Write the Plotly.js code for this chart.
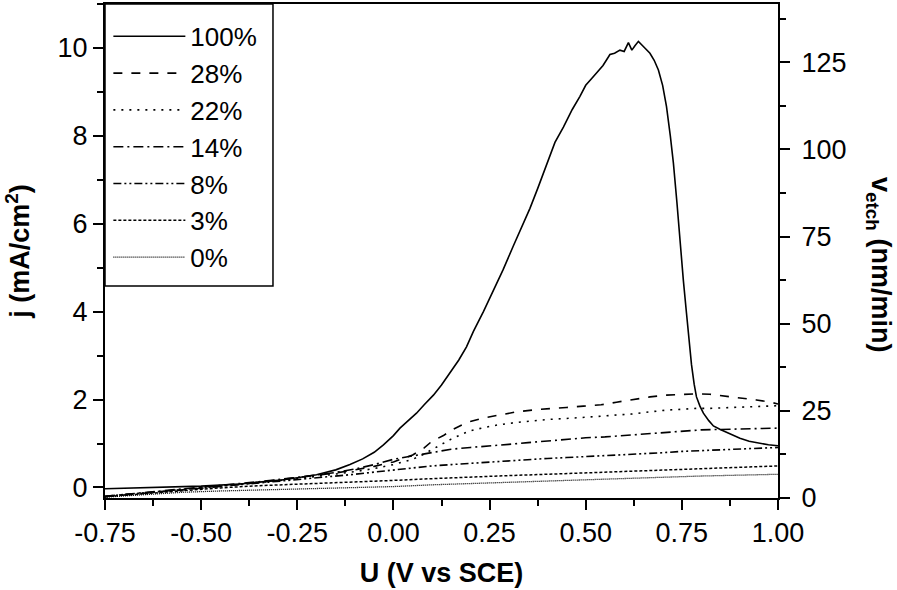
<!DOCTYPE html>
<html><head><meta charset="utf-8">
<script src="https://cdn.plot.ly/plotly-3.0.1.min.js"></script>
<style>html,body{margin:0;padding:0;background:#fff}#chart{width:897px;height:590px}</style>
</head><body><div id="chart"></div>
<script>
// Potential U (V vs SCE) and current density j (mA/cm2) per series
const u100 = [-0.75,-0.6,-0.5,-0.4,-0.3,-0.25,-0.2,-0.15,-0.113,-0.08,-0.05,-0.026,0.0,0.017,0.04,0.06,0.08,0.104,0.125,0.147,0.17,0.19,0.208,0.234,0.26,0.285,0.312,0.335,0.355,0.375,0.399,0.42,0.442,0.465,0.485,0.5,0.515,0.529,0.545,0.563,0.575,0.589,0.6,0.611,0.62,0.628,0.637,0.648,0.658,0.667,0.678,0.689,0.70,0.71,0.72,0.728,0.737,0.745,0.754,0.762,0.769,0.775,0.782,0.788,0.797,0.806,0.82,0.832,0.85,0.866,0.885,0.901,0.925,0.953,0.975,1.0];
const j100 = [-0.03,0.0,0.03,0.08,0.16,0.22,0.29,0.40,0.52,0.65,0.80,0.97,1.18,1.35,1.53,1.69,1.88,2.10,2.33,2.60,2.90,3.20,3.55,4.00,4.49,4.95,5.50,5.95,6.35,6.80,7.35,7.85,8.20,8.60,8.90,9.15,9.30,9.45,9.60,9.85,9.88,9.95,9.92,10.12,9.95,10.05,10.15,10.05,9.95,9.88,9.72,9.50,9.15,8.67,8.00,7.38,6.50,5.56,4.70,3.97,3.30,2.80,2.35,2.06,1.85,1.69,1.52,1.40,1.32,1.26,1.18,1.12,1.05,1.00,0.97,0.95];

const u28 = [-0.75,-0.65,-0.55,-0.45,-0.35,-0.25,-0.15,-0.1,-0.05,0.0,0.05,0.08,0.1,0.13,0.15,0.18,0.2,0.234,0.27,0.32,0.37,0.407,0.45,0.494,0.54,0.58,0.62,0.667,0.71,0.754,0.79,0.823,0.855,0.884,0.915,0.944,0.975,1.0];
const j28 = [-0.21,-0.13,-0.06,0.02,0.12,0.22,0.33,0.40,0.48,0.58,0.74,0.90,1.05,1.18,1.30,1.43,1.50,1.58,1.64,1.72,1.77,1.80,1.82,1.85,1.88,1.94,2.00,2.06,2.10,2.12,2.13,2.12,2.09,2.06,2.03,1.99,1.95,1.90];

const u22 = [-0.75,-0.65,-0.55,-0.45,-0.35,-0.25,-0.15,-0.1,-0.05,0.0,0.05,0.08,0.1,0.13,0.15,0.18,0.2,0.234,0.27,0.32,0.37,0.407,0.45,0.494,0.54,0.58,0.62,0.667,0.71,0.754,0.79,0.823,0.855,0.884,0.915,0.944,0.975,1.0];
const j22 = [-0.21,-0.13,-0.06,0.02,0.11,0.20,0.30,0.36,0.43,0.52,0.64,0.76,0.86,1.00,1.10,1.22,1.29,1.36,1.42,1.48,1.53,1.55,1.57,1.59,1.62,1.65,1.67,1.72,1.76,1.78,1.80,1.80,1.81,1.82,1.83,1.84,1.85,1.86];

const u14 = [-0.75,-0.65,-0.55,-0.45,-0.35,-0.25,-0.15,-0.1,-0.05,0.0,0.05,0.1,0.15,0.2,0.25,0.3,0.35,0.4,0.45,0.5,0.55,0.6,0.65,0.7,0.75,0.8,0.85,0.9,0.95,1.0];
const j14 = [-0.20,-0.12,-0.04,0.04,0.13,0.23,0.34,0.42,0.52,0.64,0.72,0.80,0.87,0.91,0.94,0.98,1.02,1.06,1.09,1.13,1.15,1.18,1.21,1.25,1.28,1.31,1.32,1.33,1.34,1.35];

const u8 = [-0.75,-0.65,-0.55,-0.45,-0.35,-0.25,-0.15,-0.1,-0.05,0.0,0.05,0.1,0.15,0.2,0.25,0.3,0.35,0.4,0.45,0.5,0.55,0.6,0.65,0.7,0.75,0.8,0.85,0.9,0.95,1.0];
const j8 = [-0.20,-0.12,-0.05,0.03,0.10,0.18,0.25,0.30,0.35,0.40,0.45,0.49,0.52,0.55,0.58,0.60,0.63,0.66,0.68,0.70,0.72,0.74,0.76,0.79,0.82,0.84,0.86,0.88,0.90,0.91];

const u3 = [-0.75,-0.65,-0.55,-0.45,-0.35,-0.25,-0.15,-0.1,0.0,0.1,0.2,0.3,0.4,0.5,0.6,0.7,0.8,0.9,1.0];
const j3 = [-0.21,-0.14,-0.07,-0.01,0.04,0.07,0.10,0.12,0.16,0.20,0.24,0.27,0.30,0.33,0.36,0.40,0.43,0.46,0.49];

const u0 = [-0.75,-0.65,-0.55,-0.45,-0.35,-0.25,-0.15,0.0,0.1,0.2,0.3,0.4,0.5,0.6,0.7,0.8,0.9,1.0];
const j0 = [-0.22,-0.16,-0.11,-0.08,-0.06,-0.03,-0.01,0.02,0.06,0.09,0.12,0.14,0.17,0.20,0.23,0.26,0.28,0.30];

const seriesNames = ["100%","28%","22%","14%","8%","3%","0%"];
const xTickVals = [-0.75,-0.50,-0.25,0.00,0.25,0.50,0.75,1.00];
const xTickText = ["-0.75","-0.50","-0.25","0.00","0.25","0.50","0.75","1.00"];

const FONT = "Liberation Sans, Arial, sans-serif";
const xs = [u100,u28,u22,u14,u8,u3,u0];
const ys = [j100,j28,j22,j14,j8,j3,j0];
const dashes = ["solid","dash","2px,6px","10px,4px,2px,4px","8px,3px,2px,3px,2px,3px","3px,2px","1px,1px"];
const widths = [1.6,1.6,1.6,1.6,1.6,1.5,1.3];

const traces = seriesNames.map((n,i)=>({
  x: xs[i], y: ys[i], name: n, type: "scatter", mode: "lines",
  line: {color: "#000", width: widths[i], dash: dashes[i]}
}));
// invisible trace to activate the right axis
traces.push({x:[-0.75], y:[0], yaxis:"y2", mode:"markers", marker:{opacity:0}, showlegend:false, hoverinfo:"skip"});

const axisCommon = {
  showgrid:false, zeroline:false, showline:true, linecolor:"#000", linewidth:2,
  ticks:"outside", ticklen:10, tickwidth:2, tickcolor:"#000",
  tickfont:{family:FONT, size:27, color:"#000"}
};

const layout = {
  width:897, height:590,
  margin:{l:105, r:119, t:4, b:92},
  paper_bgcolor:"#fff", plot_bgcolor:"#fff",
  showlegend:true,
  legend:{x:0.005, y:0.982, xanchor:"left", yanchor:"top", bgcolor:"rgba(255,255,255,0)",
    borderwidth:0, font:{family:FONT, size:26, color:"#000"},
    itemwidth:72, tracegroupgap:0},
  shapes:[{type:"rect", xref:"paper", yref:"paper", x0:0, x1:0.2496, y0:0.429, y1:1,
    line:{color:"#000", width:1.5}, fillcolor:"rgba(0,0,0,0)", layer:"above"}],
  xaxis: Object.assign({}, axisCommon, {
    range:[-0.75,1.0], tickvals:xTickVals, ticktext:xTickText, mirror:true,
    minor:{dtick:0.125, ticks:"outside", ticklen:6, tickwidth:2, tickcolor:"#000"},
    title:{text:"<b>U (V vs SCE)</b>", font:{family:FONT, size:27, color:"#000"}, standoff:16}
  }),
  yaxis: Object.assign({}, axisCommon, {
    range:[-0.24,11.0], dtick:2, tick0:0,
    minor:{dtick:1, ticks:"outside", ticklen:6, tickwidth:2, tickcolor:"#000"},
    title:{text:"<b>j (mA/cm<sup>2</sup>)</b>", font:{family:FONT, size:27, color:"#000"}, standoff:20}
  }),
  yaxis2: Object.assign({}, axisCommon, {
    overlaying:"y", side:"right", range:[0,141.7], dtick:25, tick0:0, ticklabelstandoff:6,
    minor:{dtick:12.5, ticks:"outside", ticklen:6, tickwidth:2, tickcolor:"#000"}
  }),
  annotations:[{
    text:"<b>v<sub>etch</sub> (nm/min)</b>", textangle:90, xref:"paper", yref:"paper",
    x:1.178, y:0.472, showarrow:false, font:{family:FONT, size:27, color:"#000"}
  }]
};

Plotly.newPlot("chart", traces, layout, {staticPlot:true, displayModeBar:false});
</script></body></html>
